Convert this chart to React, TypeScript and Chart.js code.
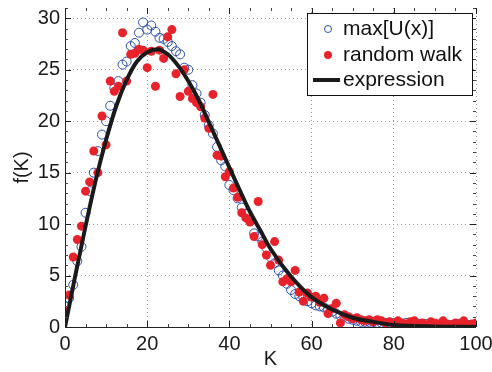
import React, { useEffect, useRef } from "react";
import { Chart, registerables } from "chart.js";

Chart.register(...registerables);

const kValues = [
  0, 1, 2, 3, 4, 5, 6, 7, 8, 9, 10, 11, 12, 13, 14, 15, 16, 17, 18, 19,
  20, 21, 22, 23, 24, 25, 26, 27, 28, 29, 30, 31, 32, 33, 34, 35, 36, 37, 38, 39,
  40, 41, 42, 43, 44, 45, 46, 47, 48, 49, 50, 51, 52, 53, 54, 55, 56, 57, 58, 59,
  60, 61, 62, 63, 64, 65, 66, 67, 68, 69, 70, 71, 72, 73, 74, 75, 76, 77, 78, 79,
  80, 81, 82, 83, 84, 85, 86, 87, 88, 89, 90, 91, 92, 93, 94, 95, 96, 97, 98, 99, 100,
];

const maxUValues = [
  2.0, 2.8, 4.1, 6.4, 7.8, 11.1, 13.2, 15.0, 17.1, 18.7,
  20.0, 21.5, 23.2, 23.9, 25.5, 25.8, 27.3, 27.6, 28.6, 29.6,
  28.9, 29.3, 28.7, 28.1, 28.0, 27.7, 27.3, 26.8, 26.5, 25.2,
  25.0, 23.5, 22.7, 21.8, 20.6, 19.6, 18.8, 17.5, 16.2, 15.6,
  13.8, 13.3, 12.5, 11.6, 11.0, 10.4, 9.1, 8.8, 8.3, 7.7,
  6.8, 6.2, 5.5, 5.0, 4.2, 3.6, 3.2, 3.0, 2.9, 2.5,
  2.3, 2.1, 2.0, 1.9, 1.7, 1.5, 1.3, 1.1, 1.0, 0.8,
  0.7, 0.6, 0.5, 0.5, 0.5, 0.5, 0.4, 0.4, 0.4, 0.4,
  0.4, 0.3, 0.3, 0.4, 0.3, 0.3, 0.3, 0.2, 0.3, 0.3,
  0.2, 0.2, 0.3, 0.2, 0.2, 0.2, 0.3, 0.2, 0.2, 0.2, 0.2,
];

const randomWalkValues = [
  1.5, 3.1, 6.8, 8.5, 9.8, 13.2, 14.1, 17.1, 15.0, 20.5,
  17.7, 23.9, 22.9, 23.4, 28.6, 23.9, 26.5, 26.6, 27.0, 26.9,
  25.2, 26.8, 23.4, 26.9, 26.1, 28.2, 28.9, 24.6, 22.4, 25.0,
  22.9, 22.2, 21.8, 21.4, 20.3, 19.3, 22.6, 16.7, 16.6, 14.6,
  15.1, 13.5, 12.6, 11.1, 10.6, 10.2, 8.8, 12.2, 8.0, 7.0,
  6.0, 8.3, 6.5, 4.4, 4.7, 4.4, 5.5, 3.4, 2.5, 3.3,
  2.9, 3.0, 2.4, 2.8, 1.3, 1.8, 2.3, 0.4, 1.2, 1.0,
  0.8, 0.9, 0.7, 0.6, 0.7, 0.5, 0.7, 0.6, 0.4, 0.5,
  0.3, 0.6, 0.4, 0.3, 0.5, 0.6, 0.3, 0.4, 0.2, 0.5,
  0.4, 0.3, 0.6, 0.3, 0.2, 0.4, 0.3, 0.6, 0.2, 0.3, 0.4,
];

const expressionK = [
  0, 2.5, 5, 7.5, 10, 12.5, 15, 17.5, 20, 22.5, 25, 27.5, 30, 32.5, 35, 37.5,
  40, 42.5, 45, 47.5, 50, 55, 60, 65, 70, 75, 80, 90, 100,
];
const expressionValues = [
  0, 5.0, 9.8, 14.3, 18.2, 21.5, 24.0, 25.8, 26.7, 27.0, 26.5, 25.4, 23.9, 22.1, 19.9, 17.7,
  15.5, 13.3, 11.2, 9.4, 7.6, 4.9, 2.9, 1.7, 0.9, 0.5, 0.2, 0.05, 0.0,
];

const seriesLabels = ["max[U(x)]", "random walk", "expression"];
const xTicks = [0, 20, 40, 60, 80, 100];
const yTicks = [0, 5, 10, 15, 20, 25, 30];

const BLUE = "#2b4fae";
const RED = "#e8222b";
const BLACK = "#1a1a1a";
const FONT = "'Liberation Sans', Arial, Helvetica, sans-serif";

const framePlugin = {
  id: "frame",
  afterDatasetsDraw(chart: any) {
    const ctx = chart.ctx;
    const { left, right, top, bottom } = chart.chartArea;
    const xs = chart.scales.x;
    const ys = chart.scales.y;
    ctx.save();
    ctx.strokeStyle = "#222";
    ctx.lineWidth = 1;
    ctx.beginPath();
    ctx.moveTo(left + 0.5, top);
    ctx.lineTo(left + 0.5, bottom + 0.5);
    ctx.lineTo(right, bottom + 0.5);
    ctx.stroke();
    ctx.strokeStyle = "#444";
    ctx.beginPath();
    for (let v = 0; v <= 31; v += 1) {
      const py = Math.round(ys.getPixelForValue(v)) + 0.5;
      ctx.moveTo(left, py);
      ctx.lineTo(left + 3, py);
      ctx.moveTo(right, py);
      ctx.lineTo(right - 3, py);
    }
    for (let v = 0; v <= 100; v += 5) {
      const px = Math.round(xs.getPixelForValue(v)) + 0.5;
      ctx.moveTo(px, bottom);
      ctx.lineTo(px, bottom - 3);
      ctx.moveTo(px, top);
      ctx.lineTo(px, top + 3);
    }
    ctx.stroke();
    ctx.strokeStyle = "#222";
    ctx.beginPath();
    yTicks.forEach((v) => {
      const py = Math.round(ys.getPixelForValue(v)) + 0.5;
      ctx.moveTo(left, py);
      ctx.lineTo(left + 6, py);
      ctx.moveTo(right, py);
      ctx.lineTo(right - 6, py);
    });
    xTicks.forEach((v) => {
      const px = Math.round(xs.getPixelForValue(v)) + 0.5;
      ctx.moveTo(px, bottom);
      ctx.lineTo(px, bottom - 6);
      ctx.moveTo(px, top);
      ctx.lineTo(px, top + 6);
    });
    ctx.stroke();

    // legend
    const lx = 307.5, ly = 13.5, lw = 165, lh = 82;
    ctx.fillStyle = "#fff";
    ctx.fillRect(lx, ly, lw, lh);
    ctx.strokeStyle = "#111";
    ctx.lineWidth = 1;
    ctx.strokeRect(lx, ly, lw, lh);
    const rows = [29, 55, 80];
    const mx = 328;
    ctx.strokeStyle = BLUE;
    ctx.lineWidth = 1;
    ctx.beginPath();
    ctx.arc(mx, rows[0], 3.5, 0, Math.PI * 2);
    ctx.stroke();
    ctx.fillStyle = RED;
    ctx.beginPath();
    ctx.arc(mx, rows[1], 4, 0, Math.PI * 2);
    ctx.fill();
    ctx.strokeStyle = BLACK;
    ctx.lineWidth = 4;
    ctx.beginPath();
    ctx.moveTo(313, rows[2]);
    ctx.lineTo(340, rows[2]);
    ctx.stroke();
    ctx.fillStyle = "#111";
    ctx.font = `21px ${FONT}`;
    ctx.textBaseline = "middle";
    ctx.textAlign = "left";
    seriesLabels.forEach((t, i) => ctx.fillText(t, 343, rows[i]));
    ctx.restore();
  },
};

export default function App() {
  const canvasRef = useRef<HTMLCanvasElement>(null);

  useEffect(() => {
    document.body.style.margin = "0";
    const canvas = canvasRef.current!;
    const chart = new Chart(canvas, {
      type: "scatter",
      data: {
        datasets: [
          {
            label: seriesLabels[2],
            type: "line",
            data: expressionK.map((k, i) => ({ x: k, y: expressionValues[i] })),
            borderColor: BLACK,
            borderWidth: 4,
            pointRadius: 0,
            showLine: true,
            fill: false,
            tension: 0.4,
            cubicInterpolationMode: "monotone",
            order: 0,
          } as any,
          {
            label: seriesLabels[1],
            data: kValues.map((k, i) => ({ x: k, y: randomWalkValues[i] })),
            backgroundColor: RED,
            borderColor: RED,
            borderWidth: 0,
            pointRadius: 4.5,
            order: 1,
          },
          {
            label: seriesLabels[0],
            data: kValues.map((k, i) => ({ x: k, y: maxUValues[i] })),
            backgroundColor: "rgba(0,0,0,0)",
            borderColor: BLUE,
            borderWidth: 1,
            pointRadius: 4.5,
            order: 2,
          },
        ],
      },
      options: {
        responsive: false,
        animation: false,
        devicePixelRatio: 1,
        layout: { padding: { top: 8, right: 16, left: 0, bottom: 0 } },
        plugins: {
          legend: { display: false },
          tooltip: { enabled: false },
        },
        scales: {
          x: {
            type: "linear",
            min: 0,
            max: 100,
            afterBuildTicks: (s: any) => {
              s.ticks = xTicks.map((v) => ({ value: v }));
            },
            afterFit: (s: any) => {
              s.height = 45;
              s.paddingLeft = 0;
              s.paddingRight = 0;
            },
            ticks: {
              font: { size: 20, family: FONT },
              color: "#1a1a1a",
              padding: 5,
              maxRotation: 0,
              autoSkip: false,
            },
            grid: { color: "#9a9a9a", lineWidth: 1, drawTicks: false },
            border: { display: false, dash: [1, 3] },
            title: {
              display: true,
              text: "K",
              font: { size: 20, family: FONT },
              color: "#1a1a1a",
              padding: { top: 0, bottom: 1 },
            },
          },
          y: {
            type: "linear",
            min: 0,
            max: 31,
            afterBuildTicks: (s: any) => {
              s.ticks = yTicks.map((v) => ({ value: v }));
            },
            afterFit: (s: any) => {
              s.width = 65;
              s.paddingTop = 0;
              s.paddingBottom = 0;
            },
            ticks: {
              font: { size: 20, family: FONT },
              color: "#1a1a1a",
              padding: 5,
              autoSkip: false,
            },
            grid: { color: "#9a9a9a", lineWidth: 1, drawTicks: false },
            border: { display: false, dash: [1, 3] },
            title: {
              display: true,
              text: "f(K)",
              font: { size: 20, family: FONT },
              color: "#1a1a1a",
              padding: { top: 10, bottom: 0 },
            },
          },
        },
      },
      plugins: [framePlugin],
    });
    return () => chart.destroy();
  }, []);

  return (
    <canvas
      ref={canvasRef}
      width={492}
      height={372}
      style={{ display: "block", width: 492, height: 372 }}
    />
  );
}
